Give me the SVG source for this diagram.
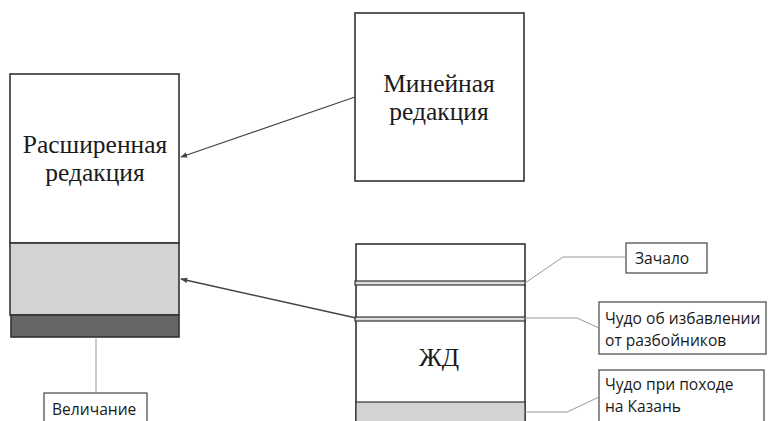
<svg xmlns="http://www.w3.org/2000/svg" width="768" height="421" viewBox="0 0 768 421">
<style>
.box{fill:#fff;stroke:#333;stroke-width:1.6}
.cbox{fill:#fff;stroke:#444;stroke-width:1.2}
.serif{font-family:"Liberation Serif","DejaVu Serif",serif;font-size:25.5px;fill:#1a1a1a;text-anchor:middle}
.sans{font-family:"Open Sans","Noto Sans","DejaVu Sans",sans-serif;font-size:15.6px;fill:#1a1a1a}
.lead{fill:none;stroke:#999;stroke-width:1}
.arrow{fill:none;stroke:#444;stroke-width:1.3;marker-end:url(#ah)}
.bar{fill:#ddd;stroke:#333;stroke-width:1.2}
</style>
<defs>
<marker id="ah" viewBox="0 0 10 10" refX="9" refY="5" markerWidth="7" markerHeight="7" markerUnits="userSpaceOnUse" orient="auto">
<path d="M0,1 L10,5 L0,9 Z" fill="#444"/>
</marker>
</defs>
<rect width="768" height="421" fill="#fff"/>
<g id="rasshirennaya">
<rect class="box" x="10" y="74" width="169" height="169"/>
<rect x="10" y="243" width="169" height="72" fill="#d3d3d3" stroke="#333" stroke-width="1.6"/>
<rect x="11" y="315" width="168" height="22" fill="#666" stroke="#333" stroke-width="1.6"/>
<text class="serif" x="95" y="153">Расширенная</text>
<text class="serif" x="95" y="181">редакция</text>
</g>
<g id="mineynaya">
<rect class="box" x="355" y="13" width="169" height="168"/>
<text class="serif" x="439" y="92">Минейная</text>
<text class="serif" x="439" y="120">редакция</text>
</g>
<g id="zhd">
<rect class="box" x="356" y="244" width="169" height="190"/>
<rect x="356" y="402" width="169" height="30" fill="#d3d3d3" stroke="#333" stroke-width="1.2"/>
<rect class="bar" x="355" y="281" width="170" height="4"/>
<rect class="bar" x="355" y="317" width="170" height="4"/>
<text class="serif" x="439" y="366">ЖД</text>
</g>
<g id="velichanie">
<rect class="cbox" x="44" y="393" width="103" height="40"/>
<text class="sans" x="52" y="415">Величание</text>
</g>
<g id="zachalo">
<rect class="cbox" x="626" y="243" width="81" height="30"/>
<text class="sans" x="635" y="264">Зачало</text>
</g>
<g id="chudo-razboyniki">
<rect class="cbox" x="599" y="302" width="167" height="52"/>
<text class="sans" x="605" y="324">Чудо об избавлении</text>
<text class="sans" x="605" y="346">от разбойников</text>
</g>
<g id="chudo-kazan">
<rect class="cbox" x="599" y="370" width="165" height="60"/>
<text class="sans" x="605" y="390">Чудо при походе</text>
<text class="sans" x="605" y="412">на Казань</text>
</g>
<g id="connectors">
<line class="arrow" x1="355" y1="97" x2="181" y2="157"/>
<line class="arrow" x1="356" y1="318" x2="181" y2="279"/>
<polyline class="lead" points="96,337 96,393"/>
<polyline class="lead" points="525,283 563,257 626,257"/>
<polyline class="lead" points="525,318 577,318 599,328"/>
<polyline class="lead" points="525,412 567,412 599,397"/>
</g>
</svg>
